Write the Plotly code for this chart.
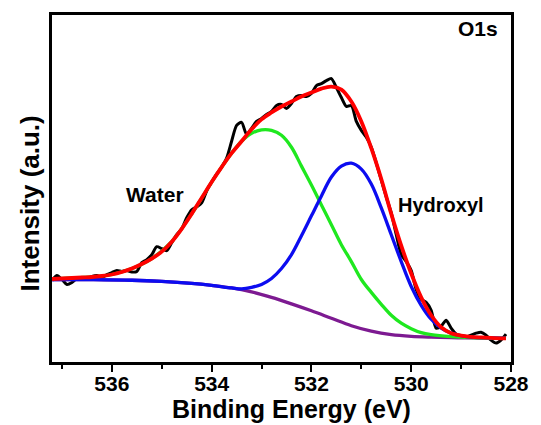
import plotly.graph_objects as go

# ---- data (binding energy in eV, intensity in arbitrary units) ----
raw_energy = [537.2, 537.1, 537.0, 536.9, 536.8, 536.7, 536.6, 536.5, 536.4, 536.3,
              536.2, 536.1, 536.0, 535.9, 535.8, 535.7, 535.6, 535.5, 535.4, 535.3,
              535.2, 535.1, 535.0, 534.9, 534.8, 534.7, 534.6, 534.5, 534.4, 534.3,
              534.2, 534.1, 534.0, 533.9, 533.8, 533.7, 533.6, 533.5, 533.4, 533.3,
              533.2, 533.1, 533.0, 532.9, 532.8, 532.7, 532.6, 532.5, 532.4, 532.3,
              532.2, 532.1, 532.0, 531.9, 531.8, 531.7, 531.6, 531.5, 531.4, 531.3,
              531.2, 531.1, 531.0, 530.9, 530.8, 530.7, 530.6, 530.5, 530.4, 530.3,
              530.2, 530.1, 530.0, 529.9, 529.8, 529.7, 529.6, 529.5, 529.4, 529.3,
              529.2, 529.1, 529.0, 528.9, 528.8, 528.7, 528.6, 528.5, 528.4, 528.3,
              528.2, 528.1]
raw_intensity = [82, 87, 83, 78, 80, 84, 85, 84, 86, 87,
                 85, 88, 90, 92, 91, 92, 90.5, 91, 100, 103,
                 108, 116, 114, 112, 120, 128, 134, 145, 153, 156,
                 160, 172, 181, 189, 196, 205, 222, 238, 241, 229,
                 235, 242, 245, 249, 252, 258, 259, 255, 260, 267,
                 268, 267, 270, 278, 280, 283, 285, 276, 266, 257,
                 258, 242, 233, 226, 216, 200, 183, 166, 150, 128,
                 108, 101, 92, 73, 63, 60, 52, 34, 36, 42,
                 34, 28, 25, 25, 27, 29, 30, 27, 22, 19,
                 22, 28]

fit_energy = [537.2, 537.0, 536.8, 536.6, 536.4, 536.2, 536.0, 535.8, 535.6, 535.4,
              535.2, 535.0, 534.8, 534.6, 534.4, 534.2, 534.0, 533.8, 533.6, 533.4,
              533.2, 533.0, 532.8, 532.6, 532.4, 532.2, 532.0, 531.8, 531.6, 531.4,
              531.2, 531.0, 530.8, 530.6, 530.4, 530.2, 530.0, 529.8, 529.6, 529.4,
              529.2, 529.0, 528.8, 528.6, 528.4, 528.2, 528.1]
envelope = [83.5, 84, 84.5, 85, 85.5, 86.5, 88, 90.5, 94, 98.5,
            104, 111, 121, 134, 149, 165, 181, 196, 210, 222,
            234, 244, 251, 257, 262, 267, 271, 275, 277, 274,
            262, 242, 215, 184, 149, 117, 89, 65, 47, 35,
            29, 26.5, 25.3, 24.7, 24.2, 23.8, 23.7]

water_energy = [537.2, 536.8, 536.4, 536.0, 535.6, 535.2, 534.8, 534.4, 534.0, 533.8,
                533.6, 533.4, 533.2, 533.0, 532.8, 532.6, 532.4, 532.2, 532.0, 531.8,
                531.6, 531.4, 531.2, 531.0, 530.8, 530.6, 530.4, 530.2, 530.0, 529.8,
                529.6, 529.2, 528.8, 528.1]
water = [83, 84.5, 85.5, 88, 94, 104, 121, 149, 181, 196,
         210, 222, 230, 233.5, 233, 228, 216, 197, 178, 158,
         138, 118, 101, 83, 70, 58, 47, 39, 33.5, 29.5,
         27.5, 25.5, 24.5, 23.8]

hydroxyl_energy = [537.2, 536.4, 535.6, 535.0, 534.4, 534.0, 533.6, 533.4, 533.2, 533.0,
                   532.8, 532.6, 532.4, 532.2, 532.0, 531.8, 531.6, 531.4, 531.2, 531.0,
                   530.8, 530.6, 530.4, 530.2, 530.0, 529.8, 529.6, 529.4, 529.2, 529.0,
                   528.8, 528.4, 528.1]
hydroxyl = [83, 82.8, 82.2, 81, 79, 77, 74.5, 73.5, 75, 78,
            84, 94, 108, 127, 147, 167, 186, 197, 200, 194,
            179, 155, 128, 101, 76, 57, 43, 34, 29, 26.5,
            25, 24.3, 23.8]

bg_energy = [537.2, 536.4, 535.6, 535.0, 534.4, 534.0, 533.6, 533.2, 532.8, 532.4,
             532.0, 531.6, 531.2, 530.8, 530.4, 530.0, 529.6, 529.2, 528.8, 528.1]
background = [83, 82.8, 82.2, 81, 79, 77, 74.5, 70.5, 65, 58.5,
              51.5, 44, 36.5, 31, 27.5, 25.8, 25, 24.5, 24.2, 23.8]

x_ticks = [536, 534, 532, 530, 528]
labels = {"peak1": "Water", "peak2": "Hydroxyl", "region": "O1s"}

FONT = "Liberation Sans, Arial, sans-serif"

fig = go.Figure()
fig.add_trace(go.Scatter(x=raw_energy, y=raw_intensity, mode="lines",
                         line=dict(color="black", width=3, shape="spline", smoothing=0.7)))
fig.add_trace(go.Scatter(x=bg_energy, y=background, mode="lines",
                         line=dict(color="#7d1a91", width=3.3, shape="spline")))
fig.add_trace(go.Scatter(x=water_energy, y=water, mode="lines",
                         line=dict(color="#1fe81f", width=3.3, shape="spline")))
fig.add_trace(go.Scatter(x=hydroxyl_energy, y=hydroxyl, mode="lines",
                         line=dict(color="#0c0cf0", width=3.3, shape="spline")))
fig.add_trace(go.Scatter(x=fit_energy, y=envelope, mode="lines",
                         line=dict(color="#ff0000", width=3.8, shape="spline")))

fig.update_layout(
    width=541, height=425,
    margin=dict(l=52, r=21, t=13, b=63),
    paper_bgcolor="white", plot_bgcolor="white",
    showlegend=False,
    font=dict(family=FONT, color="black"),
)
fig.update_xaxes(
    range=[537.2, 528], tickvals=x_ticks, ticktext=[str(v) for v in x_ticks],
    showline=True, mirror=True, linecolor="black", linewidth=2.5,
    ticks="outside", ticklen=7, tickwidth=2, tickcolor="black",
    minor=dict(ticks="outside", dtick=1, tick0=528, ticklen=4, tickwidth=2, tickcolor="black"),
    tickfont=dict(family=FONT, size=21, color="black", weight="bold"),
    ticklabelstandoff=-6,
    showgrid=False, zeroline=False,
)
fig.update_yaxes(
    range=[0, 349], showticklabels=False, ticks="",
    showline=True, mirror=True, linecolor="black", linewidth=2.5,
    showgrid=False, zeroline=False,
)

fig.add_annotation(x=0.521, y=-0.135, xref="paper", yref="paper",
                   text="<b>Binding Energy (eV)</b>", showarrow=False,
                   xanchor="center", yanchor="middle", font=dict(family=FONT, size=25))
fig.add_annotation(x=-0.047, y=0.458, xref="paper", yref="paper",
                   text="<b>Intensity (a.u.)</b>", showarrow=False, textangle=-90,
                   xanchor="center", yanchor="middle", font=dict(family=FONT, size=26))
fig.add_annotation(x=535.14, y=168, text="<b>%s</b>" % labels["peak1"], showarrow=False,
                   xanchor="center", yanchor="middle", font=dict(family=FONT, size=21))
fig.add_annotation(x=529.40, y=158, text="<b>%s</b>" % labels["peak2"], showarrow=False,
                   xanchor="center", yanchor="middle", font=dict(family=FONT, size=20))
fig.add_annotation(x=528.67, y=335, text="<b>%s</b>" % labels["region"], showarrow=False,
                   xanchor="center", yanchor="middle", font=dict(family=FONT, size=21))

fig.write_html("out.html")
